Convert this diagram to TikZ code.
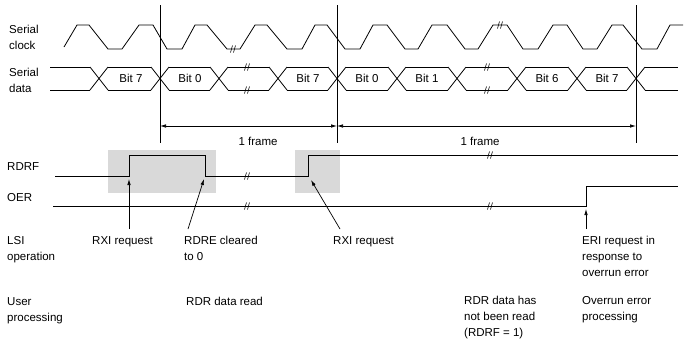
\documentclass[tikz,border=0pt]{standalone}
\usepackage{fontspec}
\setmainfont{Liberation Sans}
\usetikzlibrary{arrows.meta}
\begin{document}
\begin{tikzpicture}[x=1pt,y=-1pt,
  sig/.style={line width=0.8pt, line join=miter},
  lbl/.style={anchor=north west, inner sep=0pt, align=left, font=\fontsize{11.5}{16}\selectfont},
  bitlbl/.style={inner sep=0pt, font=\fontsize{11.5}{13}\selectfont},
  brk/.style={line width=0.6pt},
  ptr/.style={line width=0.7pt, -{Latex[length=6pt,width=3.5pt]}},
  dimline/.style={line width=0.7pt, {Latex[length=6pt,width=3.5pt]}-{Latex[length=6pt,width=3.5pt]}},
  vline/.style={line width=0.8pt},
  shade/.style={fill=black!15, draw=none},
]
\useasboundingbox (0,0) rectangle (688,341);

% shaded areas
\fill[shade] (108,150) rectangle (216,193);
\fill[shade] (295,150) rectangle (340,193);

% vertical lines
\foreach \x in {160,337,636} \draw[vline] (\x,5) -- (\x,143);

% serial clock
\draw[sig] (64,47) -- (77,25) -- (89,25) -- (108,49) -- (122,49) -- (139,25) -- (153,25) -- (167,49)
  -- (182,49) -- (195,25) -- (207,25) -- (227,49) -- (240,49) -- (255,25) -- (267,25) -- (287,49)
  -- (302,49) -- (315,25) -- (327,25) -- (345,49) -- (360,49) -- (373,25) -- (387,25) -- (405,49)
  -- (418,49) -- (432,25) -- (447,25) -- (465,49) -- (478,49) -- (493,25) -- (507,25) -- (523,49)
  -- (538,49) -- (553,25) -- (567,25) -- (583,49) -- (597,49) -- (612,25) -- (623,25) -- (642,49)
  -- (657,49) -- (670,25) -- (683,25);

% serial data
\draw[sig] (50,67) -- (90,67);
\draw[sig] (50,90) -- (90,90);
\foreach \c in {99,160,219,278,337,397,457,517,577,636}{
  \draw[sig] (\c-9,67) -- (\c+9,90);
  \draw[sig] (\c-9,90) -- (\c+9,67);
}
\foreach \a/\b in {99/160,160/219,219/278,278/337,337/397,397/457,457/517,517/577,577/636}{
  \draw[sig] (\a+9,67) -- (\b-9,67);
  \draw[sig] (\a+9,90) -- (\b-9,90);
}
\draw[sig] (645,67) -- (678,67);
\draw[sig] (645,90) -- (678,90);

\node[bitlbl] (b1) at (131,78.5) {Bit 7};
\node[bitlbl] (b2) at (190,78.5) {Bit 0};
\node[bitlbl] (b3) at (308,78.5) {Bit 7};
\node[bitlbl] (b4) at (367,78.5) {Bit 0};
\node[bitlbl] (b5) at (427,78.5) {Bit 1};
\node[bitlbl] (b6) at (547,78.5) {Bit 6};
\node[bitlbl] (b7) at (607,78.5) {Bit 7};

% frame dimension lines
\coordinate (f0) at (160,126);
\coordinate (f1) at (337,126);
\coordinate (f2) at (636,126);
\draw[dimline] (f0) -- (f1);
\draw[dimline] (f1) -- (f2);
\node[bitlbl] (fr1) at (258,141) {1 frame};
\node[bitlbl] (fr2) at (480,141) {1 frame};

% RDRF
\draw[sig] (55,176) -- (129,176) -- (129,155) -- (205,155) -- (205,176) -- (308,176) -- (308,155) -- (678,155);
% OER
\draw[sig] (53,206) -- (586,206) -- (586,186) -- (678,186);

% break marks
\foreach \x/\y in {233/49,500/25,247/67,247/90,487/67,487/90,247/176,490/155,247/206,490/206}{
  \draw[brk] (\x-2.5,\y+3.5) -- (\x-0.5,\y-3.5);
  \draw[brk] (\x+0.5,\y+3.5) -- (\x+2.5,\y-3.5);
}

% left labels
\node[lbl] (sc) at (9,25) {Serial\\clock};
\node[lbl] (sd) at (9,68) {Serial\\data};
\node[lbl] (rdrf) at (7,162) {RDRF};
\node[lbl] (oer) at (7,193) {OER};
\node[lbl] (lsi) at (7,236) {LSI\\operation};
\node[lbl] (usr) at (7,297) {User\\processing};

% event labels
\node[lbl] (rxi1) at (92,236) {RXI request};
\node[lbl] (rdre) at (184,236) {RDRE cleared\\to 0};
\node[lbl] (rxi2) at (333,236) {RXI request};
\node[lbl] (eri) at (582,236) {ERI request in\\response to\\overrun error};
\node[lbl] (rdr) at (186,297) {RDR data read};
\node[lbl] (nrd) at (464,296) {RDR data has\\not been read\\(RDRF = 1)};
\node[lbl] (ovr) at (582,296) {Overrun error\\processing};

% pointers
\coordinate (p1s) at (129,229); \coordinate (p1e) at (129,179);
\coordinate (p2s) at (188,229); \coordinate (p2e) at (204,179);
\coordinate (p3s) at (340,229); \coordinate (p3e) at (311,180);
\coordinate (p4s) at (586,229); \coordinate (p4e) at (586,209);
\draw[ptr] (p1s) -- (p1e);
\draw[ptr] (p2s) -- (p2e);
\draw[ptr] (p3s) -- (p3e);
\draw[ptr] (p4s) -- (p4e);
\end{tikzpicture}
\end{document}
